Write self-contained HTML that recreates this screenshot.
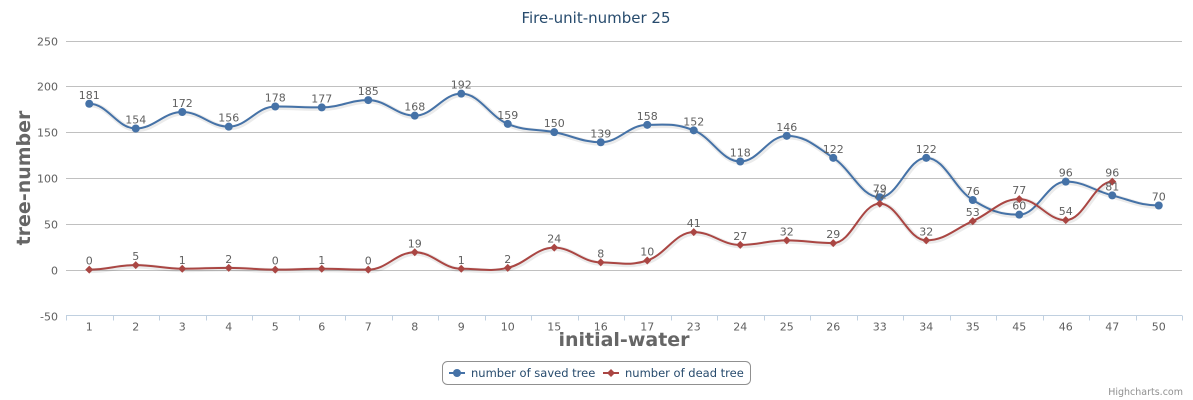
<!DOCTYPE html>
<html><head><meta charset="utf-8"><style>
body{margin:0;background:#fff;}
svg{display:block;font-family:"DejaVu Sans","Liberation Sans",sans-serif;}
</style></head><body>
<svg id="chart" width="1193" height="400">
<text x="596" y="23" text-anchor="middle" font-size="15" fill="#274b6d">Fire-unit-number 25</text>
<g id="grid"></g><g id="axes"></g><g id="series"></g><g id="labels"></g>
<text transform="translate(30,178) rotate(-90)" text-anchor="middle" font-size="19" font-weight="bold" fill="#666">tree-number</text>
<text x="624" y="346" text-anchor="middle" font-size="19" font-weight="bold" fill="#666">initial-water</text>
<g>
<rect x="442.5" y="361.5" width="308" height="23" rx="5" fill="#fff" stroke="#909090"/>
<g><line x1="449" y1="373" x2="465" y2="373" stroke="#4572a7" stroke-width="2"/><circle cx="457" cy="373" r="4" fill="#4572a7"/><text x="471" y="377" font-size="11.5" fill="#274b6d">number of saved tree</text></g>
<g><line x1="603" y1="373" x2="619" y2="373" stroke="#aa4643" stroke-width="2"/><path d="M611,369 L615,373 L611,377 L607,373Z" fill="#aa4643"/><text x="625" y="377" font-size="11.5" fill="#274b6d">number of dead tree</text></g>
</g>
<text x="1183" y="395" text-anchor="end" font-size="9.5" fill="#909090">Highcharts.com</text>
</svg>
<script>
const categories=["1","2","3","4","5","6","7","8","9","10","15","16","17","23","24","25","26","33","34","35","45","46","47","50"];
const savedValues=[181,154,172,156,178,177,185,168,192,159,150,139,158,152,118,146,122,79,122,76,60,96,81,70];
const deadValues=[0,5,1,2,0,1,0,19,1,2,24,8,10,41,27,32,29,72,32,53,77,54,96];
const yTicks=[-50,0,50,100,150,200,250];
const NS="http://www.w3.org/2000/svg";
const L=66,R=1182,T=40.5,B=315.5,yMin=-50,yMax=250;
const step=(R-L)/categories.length;
const xs=i=>L+step*(i+0.5);
const ys=v=>B-(v-yMin)/(yMax-yMin)*(B-T);
function mk(tag,attrs,parent){const e=document.createElementNS(NS,tag);for(const k in attrs)e.setAttribute(k,attrs[k]);parent.appendChild(e);return e;}
const grid=document.getElementById('grid'),axes=document.getElementById('axes'),ser=document.getElementById('series'),lab=document.getElementById('labels');
yTicks.forEach(t=>{const y=Math.round(ys(t))+0.5;
 if(t!==yMin){const g=mk('line',{x1:L,x2:R,y1:y,y2:y,stroke:'#c0c0c0'},grid);}
 const tx=mk('text',{x:58,y:y+4,'text-anchor':'end','font-size':11,fill:'#606060'},axes);tx.textContent=t;
 });
const ax=mk('line',{x1:L,x2:R,y1:B,y2:B,stroke:'#c0d0e0'},axes);

for(let i=0;i<=categories.length;i++){const x=Math.round(L+step*i)+0.5;mk('line',{x1:x,x2:x,y1:B,y2:B+5,stroke:'#c0d0e0'},axes);}
categories.forEach((c,i)=>{const t=mk('text',{x:xs(i),y:B+15,'text-anchor':'middle','font-size':11,fill:'#606060'},axes);t.textContent=c;
 });
function spline(pts){let d='M'+pts[0][0]+','+pts[0][1];const s=1.5;
 for(let i=1;i<pts.length;i++){const p0=pts[i-1],p1=pts[i];
  const pm=pts[i-2]||p0,pn=pts[i+1]||p1;
  let c1x=p0[0]+(p1[0]-p0[0])/(s+1),c1y=p0[1];
  if(pts[i-2]){const sl=(p1[1]-pm[1])/(p1[0]-pm[0]);c1y=p0[1]+sl*(c1x-p0[0]);}
  let c2x=p1[0]-(p1[0]-p0[0])/(s+1),c2y=p1[1];
  if(pts[i+1]){const sl=(pn[1]-p0[1])/(pn[0]-p0[0]);c2y=p1[1]+sl*(c2x-p1[0]);}
  if((p0[1]-pm[1])*(p0[1]-p1[1])>0||!pts[i-2])c1y=p0[1];
  if((p1[1]-p0[1])*(p1[1]-pn[1])>0||!pts[i+1])c2y=p1[1];
  d+=' C'+c1x+','+c1y+' '+c2x+','+c2y+' '+p1[0]+','+p1[1];}
 return d;}
function drawSeries(vals,color,name,marker){
 const pts=vals.map((v,i)=>[xs(i),ys(v)]);const d=spline(pts);
 mk('path',{d:d,fill:'none',stroke:'rgba(0,0,0,0.08)','stroke-width':5,transform:'translate(1,1)'},ser);
 const p=mk('path',{d:d,fill:'none',stroke:color,'stroke-width':2},ser);
 
 vals.forEach((v,i)=>{const x=xs(i),y=ys(v);let m;
  if(marker==='circle')m=mk('circle',{cx:x,cy:y,r:4,fill:color},ser);
  else m=mk('path',{d:`M${x},${y-4}L${x+4},${y}L${x},${y+4}L${x-4},${y}Z`,fill:color},ser);
  
  const t=mk('text',{x:x,y:y-5,'text-anchor':'middle','font-size':11,fill:'#606060'},lab);t.textContent=v;
  });}
drawSeries(savedValues,'#4572a7','saved-tree','circle');
drawSeries(deadValues,'#aa4643','dead-tree','diamond');
</script>
</body></html>
